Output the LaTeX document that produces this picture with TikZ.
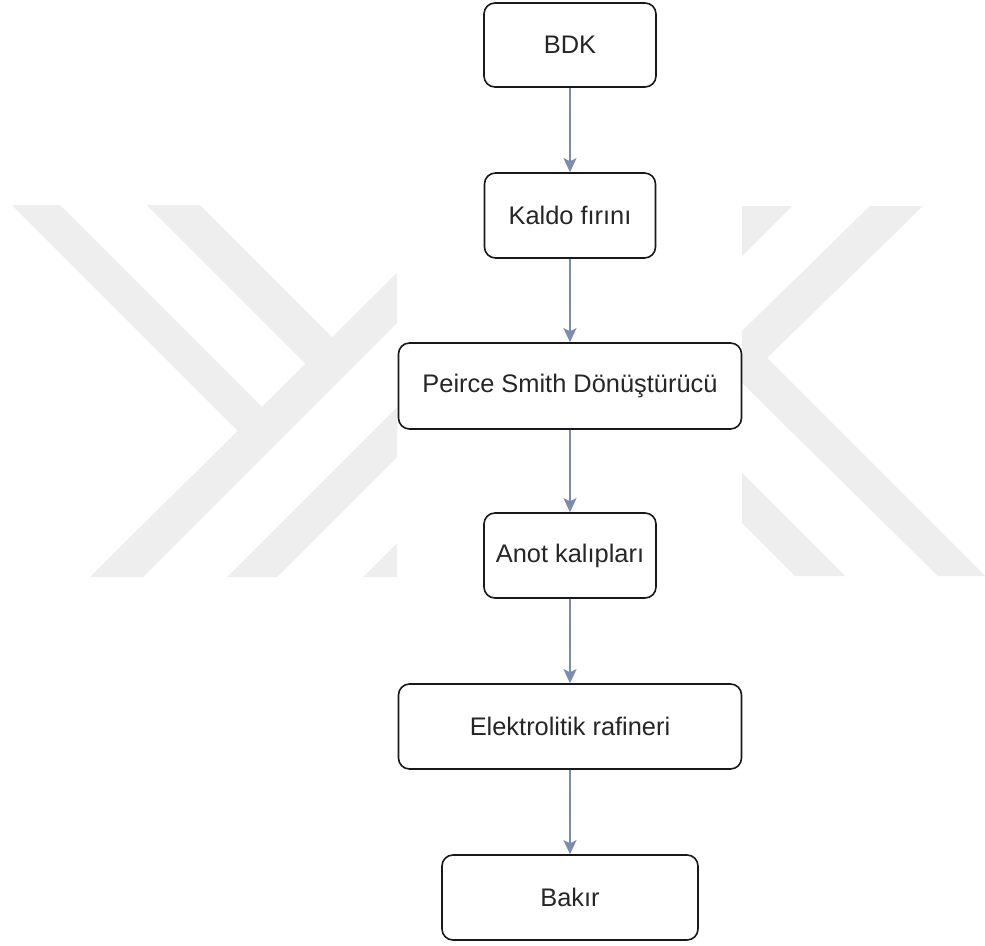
\documentclass[tikz,border=0pt]{standalone}
\usepackage{fontspec}
\setmainfont{Liberation Sans}
\usetikzlibrary{arrows.meta}
\definecolor{wm}{HTML}{EEEEEE}
\definecolor{arr}{HTML}{7A8CB0}
\definecolor{txt}{HTML}{262626}
\begin{document}
\begin{tikzpicture}[x=1pt,y=-1pt,
  box/.style={draw=black!90, line width=1.6pt, rounded corners=11pt, text=txt,
    font=\fontsize{25.4}{30}\selectfont, inner sep=0pt},
  flow/.style={draw=arr, line width=1.6pt, -{Stealth[length=14pt,width=13pt,inset=3pt]}},
  wmark/.style={fill=wm, draw=none}]
\useasboundingbox (0,0) rectangle (985,945);
\fill[white] (0,0) rectangle (985,945);
% watermark, left part
\fill[wmark] (12,205) -- (60,205) -- (262.5,407.5) -- (238.5,431.5) -- cycle;
\fill[wmark] (147,205) -- (200,205) -- (332.5,337.5) -- (306,364) -- cycle;
\fill[wmark] (90,577) -- (143,577) -- (397,323) -- (397,273) -- cycle;
\fill[wmark] (227,577) -- (277,577) -- (397,457) -- (397,407) -- cycle;
\fill[wmark] (363,577) -- (397,577) -- (397,543) -- cycle;
% watermark, right part
\fill[wmark] (742,206) -- (792,206) -- (742,256) -- cycle;
\fill[wmark] (870,206) -- (923,206) -- (767,358) -- (985,576) -- (938,576) -- (742,383) -- (742,331) -- cycle;
\fill[wmark] (742,473) -- (845,576) -- (795,576) -- (742,523) -- cycle;
% boxes
\node[box, minimum width=172pt, minimum height=84pt] (bdk) at (570,45) {BDK};
\node[box, minimum width=171pt, minimum height=85pt] (kaldo) at (570,215.5) {Kaldo fırını};
\node[box, minimum width=343pt, minimum height=86pt] (peirce) at (570,386) {Peirce Smith Dönüştürücü};
\node[box, minimum width=172pt, minimum height=85pt] (anot) at (570,555.5) {Anot kalıpları};
\node[box, minimum width=343pt, minimum height=85pt] (elek) at (570,726.5) {Elektrolitik rafineri};
\node[box, minimum width=256pt, minimum height=85pt] (bakir) at (570,897.5) {Bakır};
% connectors
\draw[flow] (bdk) -- (kaldo);
\draw[flow] (kaldo) -- (peirce);
\draw[flow] (peirce) -- (anot);
\draw[flow] (anot) -- (elek);
\draw[flow] (elek) -- (bakir);
\end{tikzpicture}
\end{document}
